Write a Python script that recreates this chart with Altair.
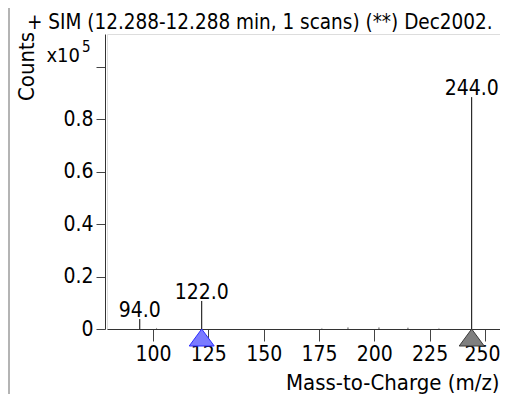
import altair as alt
import pandas as pd

# ---- data ----
peak_mz = [94.0, 101.6, 122.0, 176.3, 188.1, 202.1, 215.2, 229.2, 244.0]
peak_counts = [0.038, 0.004, 0.107, 0.004, 0.006, 0.006, 0.005, 0.004, 0.885]  # x10^5
peak_labels = ["94.0", "", "122.0", "", "", "", "", "", "244.0"]
peak_colors = ["#000000", "#999999", "#000000", "#aaaaaa", "#555555", "#555555",
               "#555555", "#aaaaaa", "#000000"]

marker_mz = [122.0, 244.0]
marker_fill = ["#7b7bff", "#7f7f7f"]
marker_stroke = ["#2b2bff", "#3a3a3a"]

x_ticks = [100, 125, 150, 175, 200, 225, 250]
y_ticks = [0, 0.2, 0.4, 0.6, 0.8, 1.0]

title_text = "+ SIM (12.288-12.288 min, 1 scans) (**) Dec2002."
x_title = "Mass-to-Charge (m/z)"
y_title = "Counts"
exp_text = "x10"
exp_sup = "5"

FONT = "DejaVu Sans Condensed, Liberation Sans, sans-serif"
LBL = 21
TTL = 22

peaks = pd.DataFrame({"mz": peak_mz, "counts": peak_counts,
                      "label": peak_labels, "col": peak_colors})
markers = pd.DataFrame({"mz": marker_mz, "base": [0, 0],
                        "fill": marker_fill, "stroke": marker_stroke})

xscale = alt.Scale(domain=[79.2, 256.8], nice=False, zero=False)
yscale = alt.Scale(domain=[0, 1.126], nice=False)

x_axis = alt.Axis(values=x_ticks, title=x_title, grid=False, format="d",
                  labelFont=FONT, labelFontSize=LBL, labelColor="#000",
                  labelPadding=2, tickSize=12, tickColor="#444",
                  labelOffset=alt.ExprRef(expr="datum.value == 250 ? -3 : 0"),
                  domainColor="#333", titleFont=FONT, titleFontSize=TTL,
                  titleFontWeight="normal", titleColor="#000",
                  titleX=392, titleY=60, titleAlign="right",
                  titleBaseline="alphabetic")
y_axis = alt.Axis(values=y_ticks, title=y_title, grid=False, offset=2,
                  labelExpr="datum.value == 1 ? '' : (datum.value == 0 ? '0' : format(datum.value, '.1f'))",
                  labelFont=FONT, labelFontSize=LBL, labelColor="#000",
                  labelPadding=3, tickSize=9, tickColor="#444",
                  domainColor="#333", titleFont=FONT, titleFontSize=TTL,
                  titleFontWeight="normal", titleColor="#000",
                  titleAngle=270, titleX=-72, titleY=32, titleAlign="center",
                  titleBaseline="alphabetic")

base = alt.Chart(peaks)

rules = base.mark_rule(strokeWidth=1).encode(
    x=alt.X("mz:Q", scale=xscale, axis=x_axis),
    y=alt.Y("counts:Q", scale=yscale, axis=y_axis),
    y2=alt.datum(0),
    color=alt.Color("col:N", scale=None),
)

labels = base.mark_text(font=FONT, fontSize=LBL, baseline="alphabetic",
                        align="center", dy=-2, color="#000").encode(
    x="mz:Q", y="counts:Q", text="label:N"
)

tri = alt.Chart(markers).mark_point(
    shape="M0,0L1,1.36L-1,1.36Z", size=625, filled=True, opacity=1,
    strokeWidth=1
).encode(
    x="mz:Q", y="base:Q",
    fill=alt.Fill("fill:N", scale=None),
    stroke=alt.Stroke("stroke:N", scale=None),
)

one = pd.DataFrame({"t": [title_text], "e": [exp_text], "s": [exp_sup]})

title = alt.Chart(one).mark_text(font=FONT, fontSize=20.5, align="left",
                                 baseline="alphabetic", color="#000").encode(
    text="t:N", x=alt.value(-80), y=alt.value(-5))
x10 = alt.Chart(one).mark_text(font=FONT, fontSize=20, align="right",
                               baseline="alphabetic", color="#000").encode(
    text="e:N", x=alt.value(-27), y=alt.value(28))
sup = alt.Chart(one).mark_text(font=FONT, fontSize=15, align="left",
                               baseline="alphabetic", color="#000").encode(
    text="s:N", x=alt.value(-25), y=alt.value(18))

frame_l = alt.Chart(one).mark_rule(color="#b4b4b4", strokeWidth=2).encode(
    x=alt.value(-98), y=alt.value(-26), y2=alt.value(360))

chart = alt.layer(frame_l, rules, labels, tri, title, x10, sup).properties(
    width=393, height=295,
    autosize=alt.AutoSizeParams(type="none"),
    padding={"left": 99, "top": 26, "right": 0, "bottom": 65},
).configure_view(stroke=None).configure(background="white")

chart.save("out.html", embed_options={"renderer": "svg", "actions": False})
